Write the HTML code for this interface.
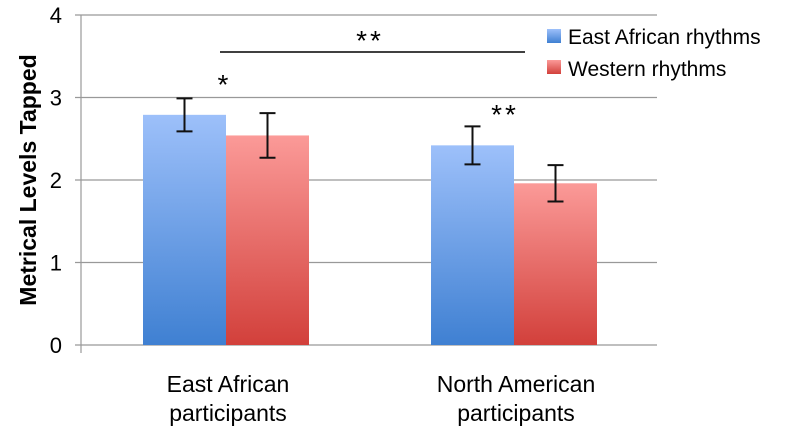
<!DOCTYPE html>
<html><head><meta charset="utf-8"><style>
body{margin:0;background:#fff;width:799px;height:437px;overflow:hidden}
svg{font-family:"Liberation Sans",sans-serif}
</style></head><body>
<svg width="799" height="437">
<defs>
<linearGradient id="gb" x1="0" y1="0" x2="0" y2="1"><stop offset="0" stop-color="#9dc0fa"/><stop offset="1" stop-color="#3f80d2"/></linearGradient>
<linearGradient id="gr" x1="0" y1="0" x2="0" y2="1"><stop offset="0" stop-color="#fb9a98"/><stop offset="1" stop-color="#d2403b"/></linearGradient>
</defs>
<g id="grid"></g><g id="bars"></g><g id="errs"></g>
<text x="30" y="180" transform="rotate(-90 30 180)" text-anchor="middle" dominant-baseline="middle" font-size="23" font-weight="bold">Metrical Levels Tapped</text>
<line x1="220" y1="52" x2="525" y2="52" stroke="#000" stroke-width="1.5"/>
<text x="370" y="50" text-anchor="middle" font-size="28" letter-spacing="3">**</text>
<text x="223" y="94" text-anchor="middle" font-size="28">*</text>
<text x="505" y="124" text-anchor="middle" font-size="28" letter-spacing="3">**</text>
<g>
<rect x="547" y="29" width="14" height="14" fill="url(#gb)"/>
<text x="568" y="44" font-size="21">East African rhythms</text>
<rect x="547" y="60" width="14" height="14" fill="url(#gr)"/>
<text x="568" y="76" font-size="21">Western rhythms</text>
</g>
<g id="xl"></g>
</svg>
<script>
const categories=[["East African","participants"],["North American","participants"]];
const eastVals=[2.79,2.42];
const westVals=[2.54,1.96];
const eastErr=[0.2,0.23];
const westErr=[0.27,0.22];
const yTicks=[0,1,2,3,4];
const NS="http://www.w3.org/2000/svg";
const x0=81,x1=657,yTop=15,yBot=345,yMax=4;
const y=v=>yBot-(v/yMax)*(yBot-yTop);
const groupW=(x1-x0)/categories.length;
const cx=i=>x0+groupW*(i+0.5);
const barW=83;
function mk(p,t,a){const e=document.createElementNS(NS,t);for(const k in a)e.setAttribute(k,a[k]);document.getElementById(p).appendChild(e);return e;}
yTicks.forEach(t=>{
  const l=mk('grid','line',{x1:x0-6,x2:x1,y1:y(t),y2:y(t),stroke:'#999','stroke-width':1.2});
  
  
  const tx=mk('grid','text',{x:62,y:y(t)+8,'text-anchor':'end','font-size':22});
  tx.textContent=t;
  
  
});
const ax=mk('grid','line',{x1:x0,x2:x0,y1:yTop,y2:yBot+8,stroke:'#999','stroke-width':1.2});


categories.forEach((c,i)=>{
  const c0=cx(i)+1;
  [[eastVals,eastErr,'url(#gb)',c0-barW,'east'],[westVals,westErr,'url(#gr)',c0,'west']].forEach(([vals,errs,f,bx,n])=>{
    const r=mk('bars','rect',{x:bx,y:y(vals[i]),width:barW,height:yBot-y(vals[i]),fill:f});
    
    
    const mx=bx+barW/2,hi=y(vals[i]+errs[i]),lo=y(vals[i]-errs[i]);
    const g=mk('errs','path',{d:`M${mx-8},${hi}H${mx+8}M${mx},${hi}V${lo}M${mx-8},${lo}H${mx+8}`,stroke:'#111','stroke-width':2,fill:'none'});
    
    
  });
  c.forEach((s,j)=>{
    const t=mk('xl','text',{x:c0+2,y:392+j*29,'text-anchor':'middle','font-size':23});
    t.textContent=s;
    
    
  });
});
</script>
</body></html>
